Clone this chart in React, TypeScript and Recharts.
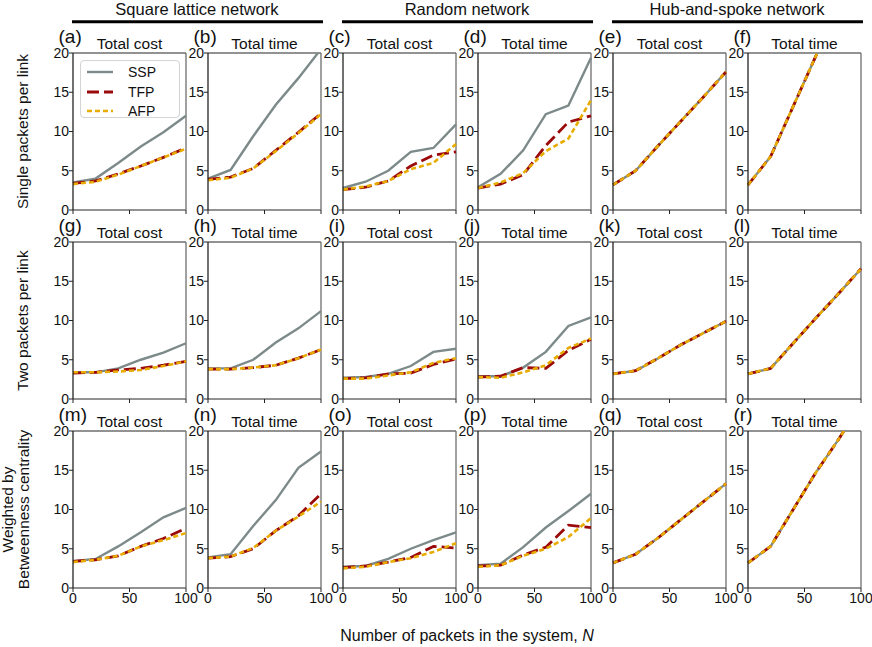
import React from 'react';
import { LineChart, Line, XAxis, YAxis, ReferenceLine, Legend } from 'recharts';

const FONT = 'Arial, "Liberation Sans", Helvetica, sans-serif';

// x values: number of packets in the system
const N = [0, 20, 40, 60, 80, 100];
const X_TICKS = [0, 50, 100];
const Y_TICKS = [0, 5, 10, 15, 20];

const NETWORKS = ['Square lattice network', 'Random network', 'Hub-and-spoke network'];
const ROW_LABELS = ['Single packets per link', 'Two packets per link'];
const ROW3_LABEL = ['Weighted by', 'Betweenness centrality'];
const METRICS = ['Total cost', 'Total time'];
const PANEL_LETTERS = ['a', 'b', 'c', 'd', 'e', 'f', 'g', 'h', 'i', 'j', 'k', 'l', 'm', 'n', 'o', 'p', 'q', 'r'];

// Row 1: single packets per link
const a_SSP = [3.5, 4.0, 6.0, 8.1, 9.9, 12.0];
const a_TFP = [3.4, 3.7, 4.6, 5.6, 6.7, 7.9];
const a_AFP = [3.3, 3.6, 4.5, 5.6, 6.7, 7.8];
const b_SSP = [4.0, 5.1, 9.4, 13.4, 16.8, 20.5];
const b_TFP = [3.9, 4.2, 5.3, 7.6, 9.9, 12.3];
const b_AFP = [3.8, 4.1, 5.3, 7.5, 9.8, 12.2];
const c_SSP = [2.8, 3.6, 5.0, 7.4, 7.9, 10.9];
const c_TFP = [2.6, 2.9, 3.7, 5.6, 7.0, 7.4];
const c_AFP = [2.6, 3.0, 3.7, 5.2, 6.0, 8.4];
const d_SSP = [2.9, 4.6, 7.6, 12.2, 13.3, 19.4];
const d_TFP = [2.8, 3.3, 4.5, 8.2, 11.2, 12.0];
const d_AFP = [2.8, 3.5, 4.7, 7.5, 9.1, 14.0];
const e_SSP = [3.2, 5.0, 8.2, 11.3, 14.4, 17.6];
const e_TFP = [3.2, 5.0, 8.2, 11.3, 14.4, 17.6];
const e_AFP = [3.2, 5.0, 8.2, 11.3, 14.4, 17.6];
const f_SSP = [3.2, 6.8, 13.2, 19.6, 26.0, 32.4];
const f_TFP = [3.2, 6.8, 13.2, 19.6, 26.0, 32.4];
const f_AFP = [3.2, 6.8, 13.2, 19.6, 26.0, 32.4];

// Row 2: two packets per link
const g_SSP = [3.4, 3.4, 3.9, 5.0, 5.9, 7.1];
const g_TFP = [3.3, 3.4, 3.7, 3.9, 4.3, 4.8];
const g_AFP = [3.4, 3.4, 3.5, 3.7, 4.2, 4.8];
const h_SSP = [3.9, 3.9, 5.0, 7.2, 9.0, 11.2];
const h_TFP = [3.8, 3.8, 4.0, 4.3, 5.2, 6.3];
const h_AFP = [3.8, 3.8, 4.0, 4.3, 5.2, 6.3];
const i_SSP = [2.7, 2.8, 3.2, 4.2, 6.0, 6.4];
const i_TFP = [2.6, 2.7, 3.2, 3.3, 4.4, 5.1];
const i_AFP = [2.6, 2.6, 3.0, 3.4, 4.6, 5.2];
const j_SSP = [2.9, 2.9, 4.0, 6.0, 9.3, 10.4];
const j_TFP = [2.8, 2.9, 4.0, 3.9, 6.2, 7.6];
const j_AFP = [2.8, 2.7, 3.4, 4.3, 6.5, 7.7];
const k_SSP = [3.2, 3.6, 5.2, 6.9, 8.4, 9.9];
const k_TFP = [3.2, 3.6, 5.2, 6.9, 8.4, 9.9];
const k_AFP = [3.2, 3.6, 5.2, 6.9, 8.4, 9.9];
const l_SSP = [3.2, 3.9, 7.1, 10.3, 13.4, 16.6];
const l_TFP = [3.2, 3.9, 7.1, 10.3, 13.4, 16.6];
const l_AFP = [3.2, 3.9, 7.1, 10.3, 13.4, 16.6];

// Row 3: weighted by betweenness centrality
const m_SSP = [3.4, 3.7, 5.3, 7.1, 9.0, 10.2];
const m_TFP = [3.4, 3.6, 4.1, 5.3, 6.3, 7.6];
const m_AFP = [3.3, 3.6, 4.1, 5.3, 6.1, 7.0];
const n_SSP = [3.9, 4.3, 7.9, 11.2, 15.3, 17.4];
const n_TFP = [3.8, 4.0, 5.0, 7.3, 9.2, 12.0];
const n_AFP = [3.8, 4.0, 5.1, 7.3, 9.1, 11.0];
const o_SSP = [2.7, 2.8, 3.7, 5.0, 6.1, 7.1];
const o_TFP = [2.6, 2.8, 3.3, 3.9, 5.3, 5.1];
const o_AFP = [2.5, 2.7, 3.3, 3.8, 4.6, 5.7];
const p_SSP = [2.9, 3.1, 5.2, 7.7, 9.8, 12.0];
const p_TFP = [2.8, 2.9, 4.2, 5.2, 8.0, 7.7];
const p_AFP = [2.7, 2.9, 4.1, 5.0, 6.5, 8.9];
const q_SSP = [3.2, 4.3, 6.4, 8.7, 11.0, 13.3];
const q_TFP = [3.2, 4.3, 6.4, 8.7, 11.0, 13.3];
const q_AFP = [3.2, 4.3, 6.4, 8.7, 11.0, 13.3];
const r_SSP = [3.2, 5.3, 10.0, 14.7, 18.9, 23.5];
const r_TFP = [3.2, 5.3, 10.0, 14.7, 18.9, 23.5];
const r_AFP = [3.2, 5.3, 10.0, 14.7, 18.9, 23.5];

const PANELS = [
  [a_SSP, a_TFP, a_AFP], [b_SSP, b_TFP, b_AFP], [c_SSP, c_TFP, c_AFP],
  [d_SSP, d_TFP, d_AFP], [e_SSP, e_TFP, e_AFP], [f_SSP, f_TFP, f_AFP],
  [g_SSP, g_TFP, g_AFP], [h_SSP, h_TFP, h_AFP], [i_SSP, i_TFP, i_AFP],
  [j_SSP, j_TFP, j_AFP], [k_SSP, k_TFP, k_AFP], [l_SSP, l_TFP, l_AFP],
  [m_SSP, m_TFP, m_AFP], [n_SSP, n_TFP, n_AFP], [o_SSP, o_TFP, o_AFP],
  [p_SSP, p_TFP, p_AFP], [q_SSP, q_TFP, q_AFP], [r_SSP, r_TFP, r_AFP],
];

const SERIES = [
  { key: 'SSP', color: '#7d8a8a', width: 2.4, dash: undefined as string | undefined },
  { key: 'TFP', color: '#9b0a0a', width: 2.8, dash: '12 5' },
  { key: 'AFP', color: '#e8ab00', width: 2.6, dash: '5 3' },
];

const COL_LEFT = [73, 208, 343, 478, 613, 748];
const ROW_TOP = [53, 242, 431];
const PW = 113;
const PH = 157;
const ML = 40;
const MT = 10;
const MR = 16;
const XH = 30;
const SPINE = '#6e6e6e';
const TICK_STYLE = { fill: '#111', fontSize: 14, fontFamily: FONT };

const LegendBox = () => (
  <div
    style={{
      width: 98,
      height: 56,
      border: '1px solid #d4d4d4',
      borderRadius: 4,
      background: 'rgba(255,255,255,0.85)',
      fontFamily: FONT,
      fontSize: 14,
      color: '#111',
      position: 'relative',
    }}
  >
    {SERIES.map((s, idx) => (
      <div key={s.key} style={{ position: 'absolute', left: 5, top: 2 + idx * 19.5, height: 18, display: 'flex', alignItems: 'center' }}>
        <svg width={28} height={18} style={{ display: 'block' }}>
          <line x1={1} y1={9} x2={27} y2={9} stroke={s.color} strokeWidth={s.width} strokeDasharray={s.dash} />
        </svg>
        <span style={{ marginLeft: 14, lineHeight: '18px' }}>{s.key}</span>
      </div>
    ))}
  </div>
);

const EmptyTick = () => <g />;

function Panel({ idx }: { idx: number }) {
  const row = Math.floor(idx / 6);
  const col = idx % 6;
  const [s, t, a] = PANELS[idx];
  const data = N.map((n, i) => ({ n, SSP: s[i], TFP: t[i], AFP: a[i] }));
  const left = COL_LEFT[col] - ML;
  const top = ROW_TOP[row] - MT;
  return (
    <div style={{ position: 'absolute', left, top }}>
      <LineChart width={ML + PW + MR} height={MT + PH + XH} data={data} margin={{ top: MT, right: MR, left: 0, bottom: 0 }}>
        <XAxis
          dataKey="n"
          type="number"
          domain={[0, 100]}
          ticks={X_TICKS}
          interval={0}
          height={XH}
          tickSize={4}
          tickMargin={1}
          axisLine={{ stroke: SPINE, strokeWidth: 1.3 }}
          tickLine={{ stroke: '#222' }}
          tick={row === 2 ? TICK_STYLE : EmptyTick}
        />
        <YAxis
          type="number"
          domain={[0, 20]}
          ticks={Y_TICKS}
          interval={0}
          allowDataOverflow
          width={ML}
          tickSize={4}
          tickMargin={0}
          axisLine={{ stroke: '#111', strokeWidth: 1.2 }}
          tickLine={{ stroke: '#222' }}
          tick={TICK_STYLE}
        />
        <ReferenceLine y={20} stroke={SPINE} strokeWidth={1.3} ifOverflow="visible" />
        <ReferenceLine x={100} stroke={SPINE} strokeWidth={1.3} ifOverflow="visible" />
        {SERIES.map((ser) => (
          <Line
            key={ser.key}
            dataKey={ser.key}
            type="linear"
            stroke={ser.color}
            strokeWidth={ser.width}
            strokeDasharray={ser.dash}
            dot={false}
            activeDot={false}
            isAnimationActive={false}
          />
        ))}
        {idx === 0 && (
          <Legend
            layout="vertical"
            align="center"
            verticalAlign="middle"
            content={() => <LegendBox />}
            wrapperStyle={{ left: 47, top: 17, width: 100, height: 58, margin: 0 }}
          />
        )}
      </LineChart>
    </div>
  );
}

export default function App() {
  const groupCenters = [0, 1, 2].map((g) => (COL_LEFT[g * 2] + COL_LEFT[g * 2 + 1] + PW) / 2);
  return (
    <div style={{ position: 'absolute', left: 0, top: 0, width: 872, height: 647, background: '#fff', overflow: 'hidden' }}>
      <svg width={872} height={647} style={{ position: 'absolute', left: 0, top: 0 }}>
        <g fontFamily={FONT} fill="#111">
          {NETWORKS.map((name, g) => (
            <g key={name}>
              <text x={groupCenters[g]} y={14.5} fontSize={16.5} textAnchor="middle">{name}</text>
              <line x1={COL_LEFT[g * 2] - 1} x2={COL_LEFT[g * 2 + 1] + PW + 2} y1={21.7} y2={21.7} stroke="#000" strokeWidth={3} />
            </g>
          ))}
          {PANEL_LETTERS.map((letter, idx) => {
            const row = Math.floor(idx / 6);
            const col = idx % 6;
            return (
              <g key={letter}>
                <text x={COL_LEFT[col] - 14.5} y={ROW_TOP[row] - 10.5} fontSize={19}>({letter})</text>
                <text x={COL_LEFT[col] + PW / 2} y={ROW_TOP[row] - 4.5} fontSize={15.5} textAnchor="middle">{METRICS[col % 2]}</text>
              </g>
            );
          })}
          {ROW_LABELS.map((lab, r) => {
            const cy = ROW_TOP[r] + PH / 2;
            return (
              <text key={lab} x={28} y={cy} fontSize={15.5} textAnchor="middle" transform={`rotate(-90 28 ${cy})`}>{lab}</text>
            );
          })}
          {ROW3_LABEL.map((lab, k) => {
            const cy = ROW_TOP[2] + PH / 2;
            const x = k === 0 ? 13 : 28.5;
            return (
              <text key={lab} x={x} y={cy} fontSize={15.5} textAnchor="middle" transform={`rotate(-90 ${x} ${cy})`}>{lab}</text>
            );
          })}
          <text x={467} y={641} fontSize={16} textAnchor="middle">
            Number of packets in the system, <tspan fontStyle="italic">N</tspan>
          </text>
        </g>
      </svg>
      {PANELS.map((_, idx) => (
        <Panel key={idx} idx={idx} />
      ))}
    </div>
  );
}
